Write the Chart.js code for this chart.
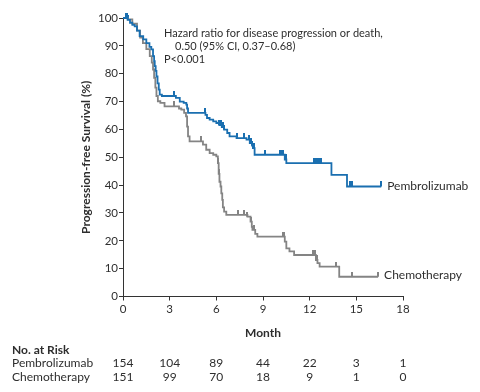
<!DOCTYPE html>
<html>
<head>
<meta charset="utf-8">
<script src="https://cdn.jsdelivr.net/npm/chart.js@4/dist/chart.umd.min.js"></script>
<style>
  body { margin: 0; background: #fff; }
  canvas { display: block; }
</style>
</head>
<body>
<canvas id="kmChart" width="480" height="392"></canvas>
<script>
// Datos (meses, % sin progresión)
const pembroTime = [0, 0.3, 0.45, 0.6, 0.75, 0.9, 1.07, 1.3, 1.5, 1.7, 1.82, 1.93, 2.0, 2.04, 2.1, 2.15, 2.22, 2.3, 2.36, 2.5, 3.4, 3.65, 3.9, 4.07, 4.12, 4.18, 5.3, 5.4, 5.57, 5.8, 6.0, 6.2, 6.35, 6.5, 6.7, 6.85, 7.3, 7.94, 8.15, 8.3, 8.35, 8.46, 10.4, 10.5, 13.4, 14.4, 16.6];
const pembroSurv = [100, 99.3, 98.3, 97.5, 97, 95.5, 93.5, 92.3, 91, 89.6, 88.7, 86.3, 84.5, 82.7, 81, 79, 76.5, 74.3, 72.5, 72, 71.3, 70, 69.5, 68.9, 67.5, 65.9, 65.2, 64.1, 63.5, 62.9, 62.3, 61.5, 60.8, 59.9, 58.7, 57.5, 56.9, 56.3, 55.1, 54.2, 53.3, 50.9, 49.2, 47.9, 43.7, 39.5, 39.5];
const chemoTime = [0, 0.3, 0.6, 0.9, 1.1, 1.28, 1.5, 1.72, 1.85, 1.93, 2.0, 2.08, 2.15, 2.24, 2.4, 2.67, 3.6, 3.75, 3.93, 4.05, 4.12, 4.18, 4.28, 5.14, 5.35, 5.57, 5.8, 6.0, 6.1, 6.15, 6.2, 6.27, 6.32, 6.38, 6.42, 6.5, 6.64, 8.0, 8.2, 8.28, 8.32, 8.5, 8.64, 10.4, 10.5, 10.7, 11.0, 12.4, 12.5, 12.64, 13.9, 16.4];
const chemoSurv = [100, 99.5, 98, 95.5, 93, 91, 88.8, 86.3, 84, 81.5, 78.5, 75, 72, 70.1, 69.5, 68.3, 67.5, 67.1, 65.9, 64.7, 61, 57.5, 55.7, 54.5, 52.7, 51.5, 50.9, 50.3, 47.9, 44, 41.2, 39.5, 37, 34.7, 32, 30.5, 29.3, 28.7, 26.9, 25, 23.9, 22.5, 21.5, 19.7, 17.3, 16.2, 14.9, 13.1, 12, 10.7, 7.1, 7.1];

// Datos censurados (meses)
const pembroCensor = [0.2, 0.25, 0.3, 3.3, 5.25, 6.2, 6.3, 6.4, 6.5, 7.3, 7.8, 8.1, 8.2, 8.3, 8.4, 9.1, 10.1, 10.2, 10.3, 10.45, 12.3, 12.4, 12.5, 12.6, 12.7, 14.6, 14.75, 16.6];
const chemoCensor = [3.3, 5.0, 6.1, 6.15, 7.4, 7.8, 8.0, 8.2, 8.4, 10.3, 10.35, 12.2, 12.35, 12.45, 13.7, 14.7, 16.4];

// Número en riesgo
const riskMonths = [0, 3, 6, 9, 12, 15, 18];
const pembroRisk = [154, 104, 89, 44, 22, 3, 1];
const chemoRisk = [151, 99, 70, 18, 9, 1, 0];

const blue = '#1a6fb0';
const gray = '#848484';
const txt = '#2e2e2e';
const font = 'Lato, "Liberation Sans", sans-serif';

// Valor de la curva en un tiempo dado (función escalonada)
function survAt(times, surv, t) {
  let v = surv[0];
  for (let i = 0; i < times.length; i++) {
    if (times[i] <= t) v = surv[i];
  }
  return v;
}

// Marca de censura: línea vertical hacia arriba
function censorMark(color) {
  const c = document.createElement('canvas');
  c.width = 2;
  c.height = 10;
  const g = c.getContext('2d');
  g.fillStyle = color;
  g.fillRect(0, 0, 2, 5);
  return c;
}

const toPoints = (t, s) => t.map((x, i) => ({ x: x, y: s[i] }));
const censorPoints = (c, t, s) => c.map(x => ({ x: x, y: survAt(t, s, x) }));

// Textos adicionales y tabla de riesgo
const extraText = {
  id: 'extraText',
  afterDraw(chart) {
    const ctx = chart.ctx;
    const x = chart.scales.x;
    const y = chart.scales.y;
    ctx.save();
    ctx.fillStyle = txt;
    ctx.textBaseline = 'middle';

    ctx.font = '11px ' + font;
    ctx.textAlign = 'left';
    ctx.fillText('Hazard ratio for disease progression or death,', 164, 33);
    ctx.fillText('0.50 (95% CI, 0.37\u20130.68)', 175, 46);
    ctx.fillText('P<0.001', 164, 59);

    ctx.font = '12px ' + font;
    const pl = pembroTime.length - 1;
    ctx.fillText('Pembrolizumab', x.getPixelForValue(pembroTime[pl]) + 6, y.getPixelForValue(pembroSurv[pl]));
    const cl = chemoTime.length - 1;
    ctx.fillText('Chemotherapy', x.getPixelForValue(chemoTime[cl]) + 6, y.getPixelForValue(chemoSurv[cl]) - 2);

    // Títulos de ejes
    ctx.font = 'bold 12px ' + font;
    ctx.textAlign = 'center';
    ctx.fillText('Month', (x.left + x.right) / 2, 333);
    ctx.save();
    ctx.translate(86, (y.top + y.bottom) / 2);
    ctx.rotate(-Math.PI / 2);
    ctx.fillText('Progression-free Survival (%)', 0, 0);
    ctx.restore();

    // Tabla "No. at Risk"
    ctx.textAlign = 'left';
    ctx.fillText('No. at Risk', 12, 350);
    ctx.font = '12px ' + font;
    ctx.fillText('Pembrolizumab', 12, 363);
    ctx.fillText('Chemotherapy', 12, 377);
    ctx.textAlign = 'center';
    riskMonths.forEach((m, i) => {
      const px = x.getPixelForValue(m);
      ctx.fillText(String(pembroRisk[i]), px, 363);
      ctx.fillText(String(chemoRisk[i]), px, 377);
    });
    ctx.restore();
  }
};

const ctx = document.getElementById('kmChart').getContext('2d');
new Chart(ctx, {
  type: 'line',
  data: {
    datasets: [
      {
        label: 'Pembrolizumab',
        data: toPoints(pembroTime, pembroSurv),
        borderColor: blue,
        borderWidth: 1.8,
        stepped: true,
        pointRadius: 0,
        fill: false
      },
      {
        label: 'Chemotherapy',
        data: toPoints(chemoTime, chemoSurv),
        borderColor: gray,
        borderWidth: 1.8,
        stepped: true,
        pointRadius: 0,
        fill: false
      },
      {
        label: 'Pembro censor',
        data: censorPoints(pembroCensor, pembroTime, pembroSurv),
        showLine: false,
        pointStyle: censorMark(blue),
        pointRadius: 3
      },
      {
        label: 'Chemo censor',
        data: censorPoints(chemoCensor, chemoTime, chemoSurv),
        showLine: false,
        pointStyle: censorMark(gray),
        pointRadius: 3
      }
    ]
  },
  options: {
    responsive: false,
    animation: false,
    devicePixelRatio: 1,
    clip: false,
    layout: { padding: { top: 18, right: 77, bottom: 0, left: 0 } },
    plugins: {
      legend: { display: false },
      tooltip: { enabled: false }
    },
    scales: {
      x: {
        type: 'linear',
        min: 0,
        max: 18,
        ticks: { stepSize: 3, color: txt, font: { family: font, size: 11.5 }, padding: 2 },
        grid: { drawOnChartArea: false, tickLength: 4, color: '#333' },
        border: { color: '#333', width: 1 },
        afterFit(scale) { scale.height = 95.5; }
      },
      y: {
        min: 0,
        max: 100,
        ticks: { stepSize: 10, color: txt, font: { family: font, size: 11.5 }, padding: 1 },
        grid: { drawOnChartArea: false, tickLength: 4, color: '#333' },
        border: { color: '#333', width: 1 },
        afterFit(scale) { scale.width = 123; }
      }
    }
  },
  plugins: [extraText]
});
</script>
</body>
</html>
